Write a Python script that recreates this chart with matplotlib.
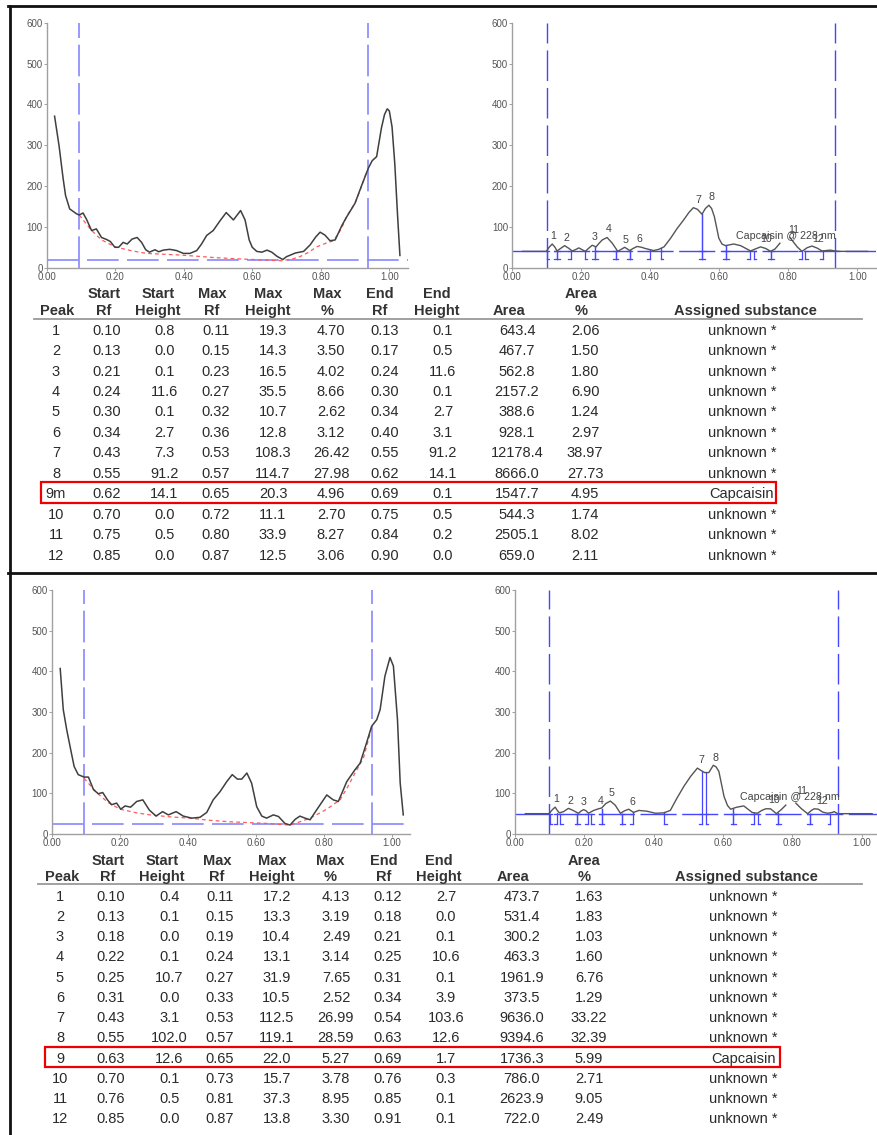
import matplotlib
matplotlib.use("Agg")
import matplotlib.pyplot as plt
from matplotlib.patches import Rectangle

plt.rcParams['font.family'] = ['Liberation Sans', 'DejaVu Sans']
plt.rcParams['lines.solid_joinstyle'] = 'round'

W, H = 877, 1135
nan = float('nan')

# ---------------- traces (Rf, signal) ----------------
# upper sample, raw densitogram + fitted background
top_raw_x = [0.023, 0.036, 0.048, 0.055, 0.067, 0.087, 0.095, 0.106, 0.116, 0.131, 0.145, 0.16,
             0.175, 0.186, 0.199, 0.21, 0.223, 0.235, 0.249, 0.264, 0.277, 0.289, 0.3, 0.316,
             0.327, 0.34, 0.359, 0.379, 0.399, 0.418, 0.438, 0.452, 0.467, 0.486, 0.506, 0.524,
             0.545, 0.566, 0.579, 0.591, 0.6, 0.613, 0.628, 0.643, 0.657, 0.672, 0.689, 0.7,
             0.726, 0.75, 0.769, 0.785, 0.798, 0.812, 0.827, 0.842, 0.862, 0.876, 0.9, 0.92,
             0.939, 0.95, 0.963, 0.977, 0.986, 0.994, 1.0, 1.008, 1.016, 1.024, 1.031]
top_raw_y = [371, 299, 218, 177, 144, 132, 129, 134, 119, 91, 95, 74,
             69, 64, 50, 50, 62, 58, 70, 74, 62, 44, 38, 44,
             39, 43, 45, 42, 35, 35, 42, 58, 79, 91, 115, 135,
             117, 140, 117, 68, 50, 40, 38, 43, 38, 28, 20, 27,
             36, 40, 56, 75, 87, 80, 66, 68, 104, 125, 158, 203,
             244, 262, 272, 342, 375, 389, 384, 345, 255, 130, 30]
top_bg_x = [0.095, 0.13, 0.16, 0.2, 0.25, 0.292, 0.34, 0.389, 0.44, 0.486, 0.55, 0.603, 0.65,
            0.686, 0.72, 0.739, 0.765, 0.788, 0.815, 0.837, 0.86, 0.875, 0.9, 0.915, 0.934]
top_bg_y = [129, 92, 68, 51, 41, 35, 33, 31, 28, 25, 22, 20, 18,
            17, 22, 27, 38, 51, 60, 66, 95, 125, 158, 190, 235]

# upper sample, background corrected trace (gap where the label covers it)
top_cor_x = [0.03, 0.099, 0.107, 0.116, 0.124, 0.13, 0.14, 0.152, 0.163, 0.174, 0.183, 0.193,
             0.203, 0.212, 0.222, 0.232, 0.243, 0.252, 0.261, 0.275, 0.29, 0.306, 0.316, 0.326,
             0.341, 0.35, 0.362, 0.375, 0.386, 0.41, 0.425, 0.44, 0.459, 0.478, 0.497, 0.512,
             0.525, 0.537, 0.55, 0.56, 0.57, 0.578, 0.586, 0.599, 0.608, 0.618, 0.642, 0.662,
             0.691, 0.705, 0.72, 0.735, 0.749, 0.762, 0.776, 0.79, 0.805, 0.816, 0.826, 0.84,
             0.855, 0.869, 0.884, 0.898, 0.91, 0.922, 0.936, 0.95, 1.03]
top_cor_y = [40, 40, 50, 58, 50, 41, 47, 54, 48, 41, 44, 48.5,
             44, 40, 48, 55, 51, 60, 68, 74, 60, 40, 45, 50,
             42, 47, 52, 50, 47, 42, 45, 51, 72, 96, 117, 135,
             147, 143, 131, 145, 153, 145, 125, 72, 58, 54, 58, 54,
             41, 46, 51, 47, 40, 46, 60, nan, 74, 62, 51, 40,
             49, 53, 48, 41, 42, 43, 41, 40, 40]

# lower sample
bot_raw_x = [0.025, 0.034, 0.044, 0.056, 0.066, 0.078, 0.095, 0.108, 0.123, 0.137, 0.15, 0.164,
             0.176, 0.191, 0.203, 0.216, 0.232, 0.25, 0.268, 0.287, 0.307, 0.326, 0.343, 0.366,
             0.387, 0.412, 0.436, 0.456, 0.475, 0.495, 0.515, 0.531, 0.546, 0.559, 0.574, 0.588,
             0.603, 0.618, 0.632, 0.652, 0.667, 0.686, 0.701, 0.716, 0.73, 0.745, 0.76, 0.779,
             0.809, 0.828, 0.843, 0.868, 0.892, 0.907, 0.926, 0.941, 0.956, 0.966, 0.98, 0.995,
             1.005, 1.017, 1.025, 1.034]
bot_raw_y = [407, 306, 257, 207, 166, 146, 140, 140, 109, 99, 102, 84,
             72, 76, 61, 69, 66, 80, 84, 59, 44, 55, 47, 55,
             44, 39, 41, 53, 84, 104, 129, 146, 135, 135, 150, 125,
             67, 44, 39, 47, 43, 26, 22, 36, 44, 39, 35, 59,
             96, 84, 80, 129, 158, 174, 224, 265, 281, 306, 388, 434,
             413, 281, 125, 47]
bot_bg_x = [0.095, 0.132, 0.165, 0.201, 0.25, 0.289, 0.35, 0.407, 0.46, 0.525, 0.58, 0.632,
            0.701, 0.73, 0.76, 0.785, 0.809, 0.848, 0.87, 0.887, 0.917, 0.941]
bot_bg_y = [137, 102, 78, 61, 52, 47, 42, 39, 34, 30, 28, 26,
            22, 30, 39, 50, 61, 84, 115, 142, 187, 261]

bot_cor_x = [0.03, 0.098, 0.108, 0.116, 0.122, 0.128, 0.14, 0.154, 0.165, 0.174, 0.183, 0.19,
             0.198, 0.205, 0.212, 0.227, 0.241, 0.25, 0.262, 0.275, 0.289, 0.304, 0.316, 0.328,
             0.342, 0.357, 0.381, 0.405, 0.429, 0.448, 0.467, 0.487, 0.506, 0.526, 0.537, 0.547,
             0.559, 0.572, 0.58, 0.588, 0.603, 0.613, 0.622, 0.64, 0.66, 0.684, 0.699, 0.712,
             0.723, 0.737, 0.754, 0.768, 0.781, 0.795, 0.81, 0.825, 0.844, 0.855, 0.863, 0.875,
             0.887, 0.901, 0.915, 0.921, 0.93, 1.03]
bot_cor_y = [50, 50, 60, 66, 58, 52, 55, 63, 59, 55, 51, 56,
             60, 57, 51, 58, 62, 64, 75, 81, 71, 51, 57, 61,
             53, 58, 56, 51, 52, 58, 88, 117, 141, 162, 156, 151,
             151, 169, 165, 154, 92, 70, 61, 66, 69, 53, 51, 58,
             62, 62, 50, 60, 71, nan, 76, 63, 50, 58, 62, 61,
             54, 51, 53, 55, 50, 50]

# ---------------- peak tables ----------------
HEAD1 = ["", "Start", "Start", "Max", "Max", "Max", "End", "End", "", "Area", ""]
HEAD2 = ["Peak", "Rf", "Height", "Rf", "Height", "%", "Rf", "Height", "Area", "%", "Assigned substance"]

top_peak = ["1", "2", "3", "4", "5", "6", "7", "8", "9m", "10", "11", "12"]
top_start_rf = [0.10, 0.13, 0.21, 0.24, 0.30, 0.34, 0.43, 0.55, 0.62, 0.70, 0.75, 0.85]
top_start_h = [0.8, 0.0, 0.1, 11.6, 0.1, 2.7, 7.3, 91.2, 14.1, 0.0, 0.5, 0.0]
top_max_rf = [0.11, 0.15, 0.23, 0.27, 0.32, 0.36, 0.53, 0.57, 0.65, 0.72, 0.80, 0.87]
top_max_h = [19.3, 14.3, 16.5, 35.5, 10.7, 12.8, 108.3, 114.7, 20.3, 11.1, 33.9, 12.5]
top_max_pct = [4.70, 3.50, 4.02, 8.66, 2.62, 3.12, 26.42, 27.98, 4.96, 2.70, 8.27, 3.06]
top_end_rf = [0.13, 0.17, 0.24, 0.30, 0.34, 0.40, 0.55, 0.62, 0.69, 0.75, 0.84, 0.90]
top_end_h = [0.1, 0.5, 11.6, 0.1, 2.7, 3.1, 91.2, 14.1, 0.1, 0.5, 0.2, 0.0]
top_area = [643.4, 467.7, 562.8, 2157.2, 388.6, 928.1, 12178.4, 8666.0, 1547.7, 544.3, 2505.1, 659.0]
top_area_pct = [2.06, 1.50, 1.80, 6.90, 1.24, 2.97, 38.97, 27.73, 4.95, 1.74, 8.02, 2.11]
top_subst = ["unknown *"] * 8 + ["Capcaisin"] + ["unknown *"] * 3

bot_peak = ["1", "2", "3", "4", "5", "6", "7", "8", "9", "10", "11", "12"]
bot_start_rf = [0.10, 0.13, 0.18, 0.22, 0.25, 0.31, 0.43, 0.55, 0.63, 0.70, 0.76, 0.85]
bot_start_h = [0.4, 0.1, 0.0, 0.1, 10.7, 0.0, 3.1, 102.0, 12.6, 0.1, 0.5, 0.0]
bot_max_rf = [0.11, 0.15, 0.19, 0.24, 0.27, 0.33, 0.53, 0.57, 0.65, 0.73, 0.81, 0.87]
bot_max_h = [17.2, 13.3, 10.4, 13.1, 31.9, 10.5, 112.5, 119.1, 22.0, 15.7, 37.3, 13.8]
bot_max_pct = [4.13, 3.19, 2.49, 3.14, 7.65, 2.52, 26.99, 28.59, 5.27, 3.78, 8.95, 3.30]
bot_end_rf = [0.12, 0.18, 0.21, 0.25, 0.31, 0.34, 0.54, 0.63, 0.69, 0.76, 0.85, 0.91]
bot_end_h = [2.7, 0.0, 0.1, 10.6, 0.1, 3.9, 103.6, 12.6, 1.7, 0.3, 0.1, 0.1]
bot_area = [473.7, 531.4, 300.2, 463.3, 1961.9, 373.5, 9636.0, 9394.6, 1736.3, 786.0, 2623.9, 722.0]
bot_area_pct = [1.63, 1.83, 1.03, 1.60, 6.76, 1.29, 33.22, 32.39, 5.99, 2.71, 9.05, 2.49]
bot_subst = ["unknown *"] * 8 + ["Capcaisin"] + ["unknown *"] * 3

chart_labels = ["1", "2", "3", "4", "5", "6", "7", "8", "Capcaisin @ 228 nm", "10", "11", "12"]

X_TICKS = [0.0, 0.2, 0.4, 0.6, 0.8, 1.0]
X_TICKLABELS = ["0.00", "0.20", "0.40", "0.60", "0.80", "1.00"]
Y_TICKS = [0, 100, 200, 300, 400, 500, 600]

LIGHT_BLUE = "#8888ff"
BLUE = "#4646ff"
RED = "#ff5a5a"
TRACE = "#3f3f3f"


def rect(left, top, right, bottom):
    # pixel box (y from top) -> figure fraction
    return [left / W, 1 - bottom / H, (right - left) / W, (bottom - top) / H]


def style(ax):
    ax.set_xlim(0, 1.055)
    ax.set_ylim(0, 600)
    ax.set_xticks(X_TICKS)
    ax.set_xticklabels(X_TICKLABELS)
    ax.set_yticks(Y_TICKS)
    for s in ("top", "right"):
        ax.spines[s].set_visible(False)
    for s in ("left", "bottom"):
        ax.spines[s].set_color("#a0a0a0")
        ax.spines[s].set_linewidth(1.0)
    ax.tick_params(labelsize=7, labelcolor="#555555", length=2, width=0.7,
                   color="#a0a0a0", pad=1)
    ax.patch.set_alpha(0)


def raw_chart(ax, x, y, bx, by, hline, vlines):
    style(ax)
    for v in vlines:
        ax.axvline(v, color=LIGHT_BLUE, lw=1.2, dashes=(19, 4), zorder=1)
    ax.axhline(hline, color=LIGHT_BLUE, lw=1.2, dashes=(19, 5), zorder=1)
    ax.plot(bx, by, color=RED, lw=0.9, dashes=(3, 2.5), zorder=2)
    ax.plot(x, y, color=TRACE, lw=1.1, zorder=3)


def peak_chart(ax, x, y, base, bottom, vlines, s_rf, s_h, m_rf, m_h, e_rf, e_h):
    style(ax)
    for v in vlines:
        ax.axvline(v, color=BLUE, lw=1.0, dashes=(22, 5), zorder=1)
    ax.axhline(base, color=BLUE, lw=1.0, dashes=(26, 4), zorder=1)
    w = 0.008
    for s, sh, e, eh in zip(s_rf, s_h, e_rf, e_h):
        ax.plot([s, s], [bottom, base + sh], color=BLUE, lw=0.9, zorder=2)
        ax.plot([s, s + w], [bottom, bottom], color=BLUE, lw=0.9, zorder=2)
        ax.plot([s, s + w], [base, base], color=BLUE, lw=0.9, zorder=2)
        ax.plot([e, e], [bottom, base + eh], color=BLUE, lw=0.9, zorder=2)
        ax.plot([e - w, e], [bottom, bottom], color=BLUE, lw=0.9, zorder=2)
        ax.plot([e - w, e], [base, base], color=BLUE, lw=0.9, zorder=2)
    ax.plot(x, y, color="#555555", lw=1.0, zorder=3)
    for lab, mx, mh in zip(chart_labels, m_rf, m_h):
        ax.text(mx, base + mh + 6, lab, ha="left", va="bottom",
                fontsize=7.7, color="#444444", zorder=4)


def table(ov, cols, vx, hx, y_h1, y_h2, y_line, x_line, y0, dy, box):
    for a, b, x in zip(HEAD1, HEAD2, hx):
        ov.text(x, y_h1, a, ha="center", va="center", fontsize=10.5,
                fontweight="bold", color="#333333")
        ov.text(x, y_h2, b, ha="center", va="center", fontsize=10.5,
                fontweight="bold", color="#333333")
    ov.plot([x_line, 862], [y_line, y_line], color="#9a9a9a", lw=1.3)
    fmts = ["{}", "{:.2f}", "{:.1f}", "{:.2f}", "{:.1f}", "{:.2f}", "{:.2f}", "{:.1f}",
            "{:.1f}", "{:.2f}", "{}"]
    for r, row in enumerate(zip(*cols)):
        for c, val in enumerate(row):
            ov.text(vx[c], y0 + r * dy, fmts[c].format(val), ha="center", va="center",
                    fontsize=10.5, color="#2a2a2a")
    ov.add_patch(Rectangle((box[0], box[1]), box[2] - box[0], box[3] - box[1],
                           fill=False, edgecolor="#ee0000", lw=1.6))


fig = plt.figure(figsize=(W / 100, H / 100), dpi=100)
fig.patch.set_facecolor("white")

ov = fig.add_axes([0, 0, 1, 1])
ov.set_xlim(0, W)
ov.set_ylim(H, 0)
ov.axis("off")

# frame of the two report blocks
ov.plot([8, W], [6, 6], color="#111111", lw=2.0)
ov.plot([10, 10], [6, H], color="#111111", lw=2.0)
ov.plot([8, W], [573, 573], color="#111111", lw=2.0)

top_cols = [top_peak, top_start_rf, top_start_h, top_max_rf, top_max_h, top_max_pct,
            top_end_rf, top_end_h, top_area, top_area_pct, top_subst]
bot_cols = [bot_peak, bot_start_rf, bot_start_h, bot_max_rf, bot_max_h, bot_max_pct,
            bot_end_rf, bot_end_h, bot_area, bot_area_pct, bot_subst]

table(ov, top_cols,
      [56, 106.5, 164.5, 216, 273, 331, 385, 443, 517, 585, 742],
      [57.5, 104, 158, 212, 268, 327, 380, 437, 509, 581, 745],
      294, 311, 319, 34, 330.7, 20.45, (40.5, 482, 776, 503))
table(ov, bot_cols,
      [60, 111, 169.5, 220, 276.6, 336, 388, 446, 522, 589, 743],
      [62, 108, 162, 217, 272, 330, 384, 439, 513, 584, 746],
      860.7, 876.7, 884.3, 38, 896.7, 20.24, (45, 1047, 780, 1067))

ax1 = fig.add_axes(rect(46.7, 22.7, 46.7 + 1.055 * 342.6, 267.7))
raw_chart(ax1, top_raw_x, top_raw_y, top_bg_x, top_bg_y, 20, [0.094, 0.939])

ax2 = fig.add_axes(rect(512.2, 22.7, 512.2 + 1.055 * 345, 267.7))
peak_chart(ax2, top_cor_x, top_cor_y, 40, 21, [0.0995, 0.937],
           top_start_rf, top_start_h, top_max_rf, top_max_h, top_end_rf, top_end_h)

ax3 = fig.add_axes(rect(51.7, 590, 51.7 + 1.055 * 340, 834))
raw_chart(ax3, bot_raw_x, bot_raw_y, bot_bg_x, bot_bg_y, 25, [0.095, 0.941])

ax4 = fig.add_axes(rect(515, 590, 515 + 1.055 * 346.7, 834))
peak_chart(ax4, bot_cor_x, bot_cor_y, 50, 25, [0.099, 0.931],
           bot_start_rf, bot_start_h, bot_max_rf, bot_max_h, bot_end_rf, bot_end_h)

fig.savefig("out.png", dpi=100, facecolor="white")
